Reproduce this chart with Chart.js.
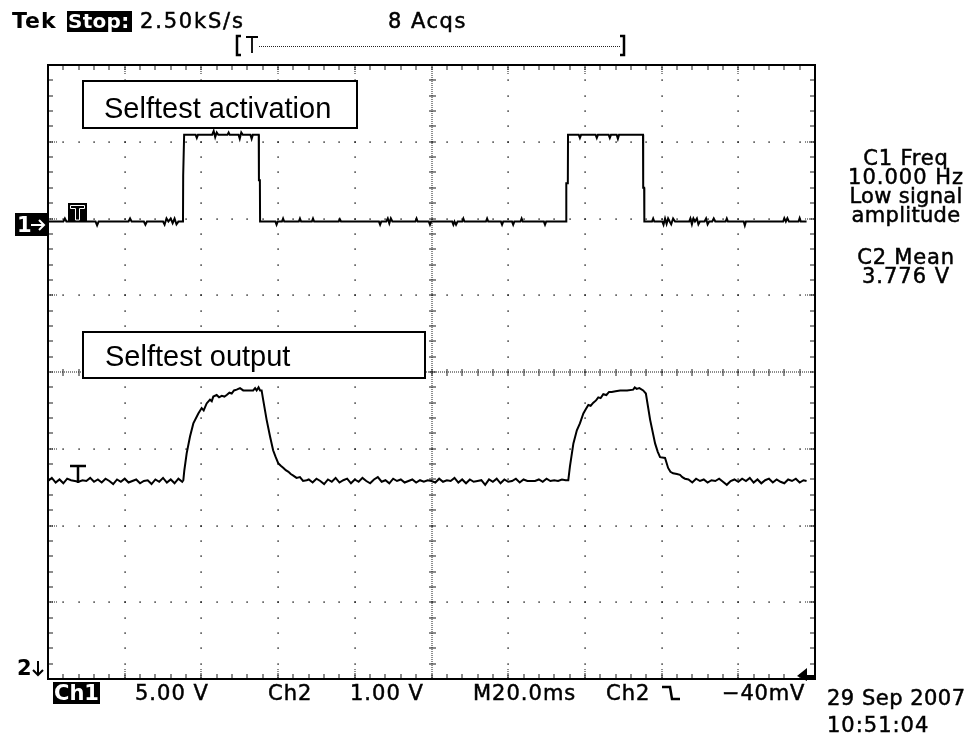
<!DOCTYPE html>
<html><head><meta charset="utf-8">
<script src="https://cdn.jsdelivr.net/npm/chart.js@4.4.1/dist/chart.umd.min.js"></script>
<style>html,body{margin:0;padding:0;background:#fff;}#wrap{position:relative;width:979px;height:737px;}</style>
</head><body><div id="wrap"><canvas id="c" width="979" height="737"></canvas></div>
<script>
// Time axis: 10 divisions x 20 ms
const timeRange = [0, 200];
// Ch1: 5.00 V/div, ground marker at 6 div from bottom -> screen spans -30..10 V
const ch1Range = [-30, 10];
// Ch2: 1.00 V/div, ground below screen -> screen spans 1..9 V
const ch2Range = [1, 9];

const ch1Time = [0,4.0,4.4,4.8,12.4,12.8,13.2,21.0,21.4,21.8,25.0,25.4,25.8,30.0,30.4,30.9,31.4,32.0,32.5,33.0,33.5,34.0,35.2,35.25,35.45,35.5,
38.5,38.8,39.1,42.8,43.2,43.6,44.0,44.4,46.8,47.1,47.4,49.7,50.0,50.4,50.8,52.8,53.1,53.4,54.95,55.0,55.25,55.3,
59.3,59.6,59.9,61.0,61.3,61.6,65.4,65.7,66.0,68.8,69.1,69.4,75.8,76.1,76.4,86.3,86.6,86.9,88.2,88.6,89.0,89.4,89.8,
95.8,96.1,96.4,99.3,99.6,99.9,105.4,105.7,106.0,106.4,106.8,108.0,108.3,108.6,114.2,114.5,114.8,118.1,118.4,118.7,
121.0,121.3,121.6,123.2,123.5,123.8,129.3,129.6,129.9,135.1,135.15,135.55,135.6,
138.4,138.7,139.0,142.8,143.1,143.4,146.2,146.5,146.8,148.3,148.6,148.9,155.15,155.2,155.45,155.5,
157.5,157.8,158.1,160.2,160.5,160.9,161.3,161.7,162.1,162.5,163.0,163.5,167.2,167.5,167.9,168.3,168.7,169.2,169.6,170.0,
171.2,171.6,172.0,172.4,173.2,173.6,174.0,176.7,177.0,177.3,181.4,181.7,182.0,191.7,192.0,192.4,192.8,193.2,195.7,196.0,196.3,197.8];
const ch1Volt = [-0.2,-0.2,0.0,-0.2,-0.2,-0.45,-0.2,-0.2,0.0,-0.2,-0.2,-0.4,-0.2,-0.2,-0.4,0.0,-0.2,0.0,-0.3,0.0,-0.38,-0.2,-0.2,2.8,2.8,5.45,
5.45,5.25,5.45,5.45,5.7,5.3,5.6,5.45,5.45,5.6,5.45,5.45,5.2,5.6,5.45,5.45,5.2,5.45,5.45,2.5,2.5,-0.2,
-0.2,-0.4,-0.2,-0.2,0.0,-0.2,-0.2,0.0,-0.2,-0.2,0.0,-0.2,-0.2,-0.05,-0.2,-0.2,-0.4,-0.2,-0.2,0.0,-0.32,0.0,-0.2,
-0.2,0.0,-0.2,-0.2,-0.4,-0.2,-0.2,-0.4,-0.2,-0.4,-0.2,-0.2,0.0,-0.2,-0.2,0.0,-0.2,-0.2,-0.4,-0.2,
-0.2,-0.4,-0.2,-0.2,0.0,-0.2,-0.2,-0.4,-0.2,-0.2,2.3,2.3,5.45,
5.45,5.25,5.45,5.45,5.25,5.45,5.45,5.25,5.45,5.45,5.2,5.45,5.45,2.0,2.0,-0.2,
-0.2,0.0,-0.2,-0.2,-0.4,0.0,-0.35,0.0,-0.2,-0.38,0.0,-0.2,-0.2,0.0,-0.38,0.0,-0.2,0.0,-0.38,-0.2,
-0.2,0.0,-0.38,-0.2,-0.2,0.0,-0.2,-0.2,0.0,-0.2,-0.2,-0.45,-0.2,-0.2,0.02,-0.2,0.02,-0.2,-0.2,0.02,-0.2,-0.2];

const ch2Time = [0,1,2,3,4,5,6,7,8,9,10,11,12,13,14,15,16,17,18,19,20,21,22,23,24,25,26,27,28,29,30,31,32,33,34,35,
35.29,35.55,36.16,37.03,37.9,39.2,40.07,40.6,41.37,42.24,42.7,43.1,43.98,44.6,45.3,46.0,46.6,47.3,47.9,48.5,
49.2,50.07,50.9,53.5,54.0,54.4,54.9,55.3,55.7,56.1,57.0,57.9,58.7,59.3,60.05,60.7,61.4,62.0,62.7,63.3,63.97,64.8,65.7,66.5,67.46,
68,69,70,71,72,73,74,75,76,77,78,79,80,81,82,83,84,85,86,87,88,89,90,91,92,93,94,95,96,97,98,99,100,101,102,103,104,105,106,107,
108,109,110,111,112,113,114,115,116,117,118,119,120,121,122,123,124,125,126,127,128,129,130,131,132,133,134,135,
135.67,136.1,137.0,137.9,138.7,139.6,140.3,140.9,141.5,142.2,142.9,143.5,144.1,144.8,145.6,146.3,147.0,148.0,149.2,151.0,
152.6,153.0,153.5,154.2,155.2,155.9,157.0,158.3,159.0,159.6,160.9,161.7,162.3,163.0,164.0,164.8,165.4,166.1,
167,168,169,170,171,172,173,174,175,176,177,178,179,180,181,182,183,184,185,186,187,188,189,190,191,192,193,194,195,196,197,197.8];
const ch2Volt = [3.58,3.62,3.56,3.60,3.55,3.61,3.59,3.58,3.57,3.59,3.58,3.62,3.57,3.60,3.56,3.61,3.58,3.54,3.60,3.57,3.61,3.56,3.58,3.60,3.55,3.58,3.59,3.54,3.60,3.57,3.62,3.56,3.60,3.55,3.61,3.57,
3.59,3.72,3.94,4.16,4.33,4.46,4.53,4.50,4.59,4.64,4.62,4.68,4.70,4.67,4.69,4.68,4.70,4.73,4.72,4.76,
4.77,4.79,4.76,4.76,4.79,4.76,4.80,4.76,4.76,4.64,4.38,4.16,3.98,3.90,3.81,3.78,3.75,3.72,3.70,3.67,3.65,3.62,3.63,3.58,3.59,
3.60,3.56,3.61,3.58,3.54,3.60,3.57,3.62,3.56,3.59,3.61,3.55,3.60,3.57,3.62,3.58,3.55,3.60,3.63,3.57,3.59,3.55,3.61,3.58,3.60,3.56,3.58,3.60,3.56,3.59,3.57,3.59,3.58,3.56,3.61,3.57,3.59,3.58,3.62,3.56,
3.60,3.55,3.60,3.57,3.58,3.59,3.53,3.60,3.57,3.61,3.55,3.60,3.57,3.58,3.61,3.56,3.60,3.58,3.58,3.58,3.60,3.57,3.61,3.58,3.59,3.58,3.60,3.59,
3.59,3.77,4.07,4.24,4.33,4.46,4.52,4.57,4.56,4.60,4.63,4.67,4.66,4.71,4.70,4.74,4.74,4.75,4.76,4.76,
4.77,4.80,4.78,4.79,4.76,4.72,4.38,4.07,3.96,3.89,3.88,3.75,3.70,3.68,3.67,3.66,3.63,3.61,
3.60,3.56,3.61,3.58,3.60,3.56,3.59,3.58,3.61,3.57,3.53,3.58,3.60,3.57,3.61,3.58,3.62,3.56,3.60,3.55,3.59,3.61,3.56,3.60,3.57,3.55,3.60,3.58,3.61,3.56,3.59,3.58];

const FONT = '"DejaVu Sans", Verdana, sans-serif';
const ARIAL = '"Liberation Sans", Arial, sans-serif';

function txt(ctx, s, x, y, o) {
  o = o || {};
  ctx.save();
  ctx.font = o.font || ('21px ' + FONT);
  ctx.fillStyle = o.color || '#000';
  ctx.strokeStyle = o.color || '#000';
  ctx.textBaseline = 'alphabetic';
  try { ctx.letterSpacing = (o.ls != null ? o.ls : 1.2) + 'px'; } catch (e) {}
  let xx = x;
  if (o.align === 'center') { xx = x - ctx.measureText(s).width / 2; }
  ctx.textAlign = 'left';
  ctx.fillText(s, xx, y);
  if (o.bolden !== false) { ctx.lineWidth = 0.5; ctx.strokeText(s, xx, y); }
  ctx.restore();
}

const scopeGrid = {
  id: 'scopeGrid',
  beforeDatasetsDraw(chart) {
    const ctx = chart.ctx, a = chart.chartArea;
    const W = a.right - a.left, H = a.bottom - a.top;
    const dx = W / 10, dy = H / 8;
    ctx.save();
    ctx.fillStyle = '#1a1a1a';
    for (let i = 1; i < 10; i++) {
      const x = Math.round(a.left + i * dx);
      if (i === 5) {
        for (let y = a.top; y <= a.bottom; y += 2) ctx.fillRect(x - 0.5, y, 1, 1);
        for (let k = 1; k < 40; k++) { const y = Math.round(a.top + k * dy / 5); ctx.fillRect(x - 3, y - 0.5, 7, 1); }
      } else {
        for (let k = 1; k < 40; k++) { const y = Math.round(a.top + k * dy / 5); ctx.fillRect(x - 0.6, y - 0.6, 1.4, 1.4); }
        for (let y = a.top + 2; y < a.top + 10; y += 2) ctx.fillRect(x - 0.5, y, 1, 1);
        for (let y = a.bottom - 10; y < a.bottom - 1; y += 2) ctx.fillRect(x - 0.5, y, 1, 1);
      }
    }
    for (let j = 1; j < 8; j++) {
      const y = Math.round(a.top + j * dy);
      if (j === 4) {
        for (let x = a.left; x <= a.right; x += 2) ctx.fillRect(x, y - 0.5, 1, 1);
        for (let k = 1; k < 50; k++) { const x = Math.round(a.left + k * dx / 5); ctx.fillRect(x - 0.5, y - 3, 1, 7); }
      } else {
        for (let k = 1; k < 50; k++) { const x = Math.round(a.left + k * dx / 5); ctx.fillRect(x - 0.6, y - 0.6, 1.4, 1.4); }
        for (let x = a.left + 2; x < a.left + 10; x += 2) ctx.fillRect(x, y - 0.5, 1, 1);
        for (let x = a.right - 10; x < a.right - 1; x += 2) ctx.fillRect(x, y - 0.5, 1, 1);
      }
    }
    for (let k = 1; k < 50; k++) {
      const x = Math.round(a.left + k * dx / 5);
      ctx.fillRect(x - 0.5, a.top, 1, 5);
      ctx.fillRect(x - 0.5, a.bottom - 5, 1, 5);
    }
    for (let k = 1; k < 40; k++) {
      const y = Math.round(a.top + k * dy / 5);
      ctx.fillRect(a.left, y - 0.5, 5, 1);
      ctx.fillRect(a.right - 5, y - 0.5, 5, 1);
    }
    ctx.restore();
  },
  afterDatasetsDraw(chart) {
    const ctx = chart.ctx, a = chart.chartArea;
    ctx.save();
    ctx.strokeStyle = '#000'; ctx.lineWidth = 2;
    ctx.strokeRect(a.left, a.top, a.right - a.left, a.bottom - a.top);

    ctx.fillStyle = '#fff'; ctx.lineWidth = 2; ctx.strokeStyle = '#000';
    ctx.fillRect(83, 81, 274, 47); ctx.strokeRect(83, 81, 274, 47);
    txt(ctx, 'Selftest activation', 104, 118, {font: '29px ' + ARIAL, ls: 0, bolden: false});
    ctx.fillStyle = '#fff';
    ctx.fillRect(83, 332, 342, 46); ctx.strokeRect(83, 332, 342, 46);
    txt(ctx, 'Selftest output', 105, 366, {font: '29px ' + ARIAL, ls: 0, bolden: false});

    // Ch1 trigger marker
    ctx.fillStyle = '#000';
    ctx.fillRect(68, 203, 19, 19);
    ctx.strokeStyle = '#fff'; ctx.lineWidth = 1;
    ctx.beginPath();
    ctx.moveTo(70.5, 205.5); ctx.lineTo(84.5, 205.5); ctx.lineTo(84.5, 208.5); ctx.lineTo(79.5, 208.5);
    ctx.lineTo(79.5, 220); ctx.lineTo(75.5, 220); ctx.lineTo(75.5, 208.5); ctx.lineTo(70.5, 208.5); ctx.closePath();
    ctx.stroke();
    // Ch2 trigger level T
    ctx.strokeStyle = '#000'; ctx.lineWidth = 2.5;
    ctx.beginPath(); ctx.moveTo(70, 466); ctx.lineTo(86, 466); ctx.moveTo(78, 466); ctx.lineTo(78, 483); ctx.stroke();

    // trigger level arrow
    ctx.fillStyle = '#000';
    ctx.beginPath(); ctx.moveTo(807, 668); ctx.lineTo(807, 681); ctx.lineTo(797, 676); ctx.closePath(); ctx.fill();
    ctx.fillRect(806, 675, 9, 3);
    ctx.restore();
  },
  afterDraw(chart) {
    const ctx = chart.ctx;
    ctx.save();
    txt(ctx, 'Tek', 12, 28, {font: 'bold 22px ' + FONT, ls: 1, bolden: false});
    ctx.fillStyle = '#000'; ctx.fillRect(67, 11, 65, 21);
    txt(ctx, 'Stop:', 68, 28, {font: 'bold 20px ' + FONT, color: '#fff', ls: 0.3, bolden: false});
    txt(ctx, '2.50kS/s', 140, 28, {ls: 1.8});
    txt(ctx, '8 Acqs', 388, 28, {ls: 1.5});
    ctx.strokeStyle = '#000'; ctx.lineWidth = 2.5;
    ctx.beginPath(); ctx.moveTo(241, 36); ctx.lineTo(237, 36); ctx.lineTo(237, 55); ctx.lineTo(241, 55); ctx.stroke();
    ctx.beginPath(); ctx.moveTo(620, 36); ctx.lineTo(624, 36); ctx.lineTo(624, 55); ctx.lineTo(620, 55); ctx.stroke();
    ctx.lineWidth = 1.8;
    ctx.beginPath(); ctx.moveTo(246, 37); ctx.lineTo(258, 37); ctx.moveTo(252, 37); ctx.lineTo(252, 53); ctx.stroke();
    ctx.fillStyle = '#222';
    for (let x = 259; x < 621; x += 2) ctx.fillRect(x, 46, 1, 1);

    ctx.fillStyle = '#000'; ctx.fillRect(15, 213, 32, 23);
    txt(ctx, '1', 17, 232, {font: 'bold 21px ' + FONT, color: '#fff', ls: 0, bolden: false});
    ctx.strokeStyle = '#fff'; ctx.lineWidth = 2;
    ctx.beginPath(); ctx.moveTo(31, 225); ctx.lineTo(44, 225); ctx.moveTo(39, 220); ctx.lineTo(44, 225); ctx.lineTo(39, 230); ctx.stroke();
    txt(ctx, '2', 17, 675, {font: 'bold 21px ' + FONT, ls: 0, bolden: false});
    ctx.strokeStyle = '#000'; ctx.lineWidth = 2;
    ctx.beginPath(); ctx.moveTo(38, 661); ctx.lineTo(38, 675); ctx.moveTo(33, 670); ctx.lineTo(38, 675); ctx.lineTo(43, 670); ctx.stroke();

    ctx.fillStyle = '#000'; ctx.fillRect(53, 682, 47, 22);
    txt(ctx, 'Ch1', 54, 700, {font: 'bold 21px ' + FONT, color: '#fff', ls: 0, bolden: false});
    txt(ctx, '5.00 V', 135, 700, {ls: 1});
    txt(ctx, 'Ch2', 268, 700, {ls: 1});
    txt(ctx, '1.00 V', 350, 700, {ls: 1});
    txt(ctx, 'M20.0ms', 473, 700, {ls: 1});
    txt(ctx, 'Ch2', 606, 700, {ls: 1});
    ctx.strokeStyle = '#000'; ctx.lineWidth = 2.5;
    ctx.beginPath(); ctx.moveTo(662, 687); ctx.lineTo(670, 687); ctx.lineTo(672, 699); ctx.lineTo(680, 699); ctx.stroke();
    txt(ctx, '\u221240mV', 722, 700, {ls: 0.8});
    txt(ctx, '29 Sep 2007', 827, 705, {ls: 0.5});
    txt(ctx, '10:51:04', 827, 732, {ls: 1});

    const cx = 906;
    txt(ctx, 'C1 Freq', cx, 165, {align: 'center', ls: 0.8});
    txt(ctx, '10.000 Hz', cx, 184, {align: 'center', ls: 1});
    txt(ctx, 'Low signal', cx, 203, {align: 'center', ls: 0.3});
    txt(ctx, 'amplitude', cx, 222, {align: 'center', ls: 0.3});
    txt(ctx, 'C2 Mean', cx, 264, {align: 'center', ls: 0.8});
    txt(ctx, '3.776 V', cx, 283, {align: 'center', ls: 1});
    ctx.restore();
  }
};

const ch1Data = ch1Time.map((t, i) => ({x: t, y: ch1Volt[i]}));
const ch2Data = ch2Time.map((t, i) => ({x: t, y: ch2Volt[i]}));

new Chart(document.getElementById('c'), {
  type: 'line',
  data: {
    datasets: [
      {label: 'Ch1', data: ch1Data, yAxisID: 'y1', borderColor: '#000', borderWidth: 2, pointRadius: 0, tension: 0, fill: false},
      {label: 'Ch2', data: ch2Data, yAxisID: 'y2', borderColor: '#000', borderWidth: 2, pointRadius: 0, tension: 0, fill: false}
    ]
  },
  options: {
    responsive: false,
    animation: false,
    devicePixelRatio: 1,
    layout: {padding: {left: 48, top: 65, right: 164, bottom: 58}},
    plugins: {legend: {display: false}, tooltip: {enabled: false}, title: {display: false}},
    scales: {
      x: {type: 'linear', min: timeRange[0], max: timeRange[1], display: false},
      y1: {type: 'linear', min: ch1Range[0], max: ch1Range[1], display: false},
      y2: {type: 'linear', min: ch2Range[0], max: ch2Range[1], display: false}
    }
  },
  plugins: [scopeGrid]
});
</script>
</body></html>
